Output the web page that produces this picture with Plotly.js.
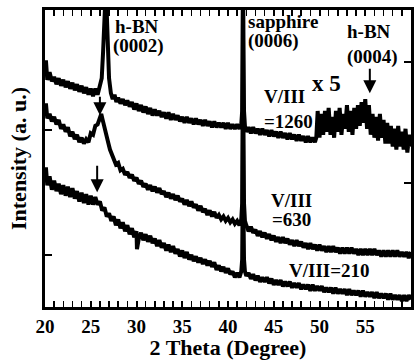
<!DOCTYPE html>
<html><head><meta charset="utf-8">
<script src="https://cdn.plot.ly/plotly-3.0.1.min.js"></script>
<style>html,body{margin:0;padding:0;background:#fff;}#chart{width:419px;height:360px;}</style>
</head><body><div id="chart"></div>
<script>
// V/III = 1260 (top curve; region above 49.7 deg shown x5)
const topX = [20.0,20.1,20.25,20.5,20.75,21.0,21.25,21.5,21.75,22.0,22.25,22.5,22.75,23.0,23.25,23.5,23.75,24.0,24.25,24.5,24.75,25.0,25.25,25.5,25.75,26.0,26.2,26.35,26.5,26.6,26.75,26.9,27.0,27.2,27.4,27.6,27.8,28.0,28.25,28.5,28.75,29.0,29.25,29.5,29.75,30.0,30.25,30.5,30.75,31.0,31.25,31.5,31.75,32.0,32.25,32.5,32.75,33.0,33.25,33.5,33.75,34.0,34.25,34.5,34.75,35.0,35.25,35.5,35.75,36.0,36.25,36.5,36.75,37.0,37.25,37.5,37.75,38.0,38.25,38.5,38.75,39.0,39.25,39.5,39.75,40.0,40.25,40.5,40.75,41.0,41.25,41.45,41.55,41.6,41.64,41.68,41.75,41.85,42.0,42.25,42.5,42.75,43.0,43.25,43.5,43.75,44.0,44.25,44.5,44.75,45.0,45.25,45.5,45.75,46.0,46.25,46.5,46.75,47.0,47.25,47.5,47.75,48.0,48.25,48.5,48.75,49.0,49.25,49.5,49.65,
49.7,49.8,50.0,50.2,50.4,50.6,50.8,51.0,51.2,51.4,51.6,51.8,52.0,52.2,52.4,52.6,52.8,53.0,53.2,53.4,53.6,53.8,54.0,54.2,54.4,54.6,54.8,55.0,55.2,55.4,55.6,55.8,56.0,56.2,56.4,56.6,56.8,57.0,57.2,57.4,57.6,57.8,58.0,58.2,58.4,58.6,58.8,59.0,59.2,59.4,59.6,59.8,60.0];
const topY = [78,83,76.5,79,76,77.5,75,77,74.5,76.5,74,76,73.5,75.5,73,75,72.5,74.5,72,74,71.5,73.5,71,73.5,71.5,74,77,86,99,104,99,86,77,72,70,71.5,69,70.5,68.5,70,68,69.5,67.5,69,66.5,68.5,66,68,65.5,67.5,65,67,64.5,66.5,64.5,66,64,65.5,63.5,65.5,63,65,63,64.5,62.5,64,62,64,62,63.5,61.5,63.5,61.5,63,61,63,61,62.5,60.5,62.5,60.5,62,60.5,62,60,62,60,61.5,60,61.5,60,61.5,66,90,112,90,66,61,59,60.5,58.5,60.5,58.5,60,58,60,58,59.5,57.5,59.5,57.5,59,57,59,57,58.5,56.5,58.5,56.5,58,56,58,56,57.5,55.5,57.5,55.5,57,55.5,57,
60,66,57,65,58,66,59,67,58,64,57,66,59,67,58,65,60,68,59,66,58,67,60,68,61,69,62,70,60,68,58,65,57,64,56,65,57,63,55,62,55,61,54,60,53,61,54,59,53,60,52,58,54];

// V/III = 630 (middle curve)
const midX = [20.0,20.1,20.25,20.5,20.75,21.0,21.25,21.5,21.75,22.0,22.25,22.5,22.75,23.0,23.25,23.5,23.75,24.0,24.25,24.5,24.75,25.0,25.25,25.5,25.75,26.0,26.15,26.3,26.5,26.7,26.9,27.1,27.3,27.5,27.75,28.0,28.25,28.5,28.75,29.0,29.25,29.5,29.75,30.0,30.25,30.5,30.75,31.0,31.25,31.5,31.75,32.0,32.25,32.5,32.75,33.0,33.25,33.5,33.75,34.0,34.25,34.5,34.75,35.0,35.25,35.5,35.75,36.0,36.25,36.5,36.75,37.0,37.25,37.5,37.75,38.0,38.25,38.5,38.75,39.0,39.25,39.5,39.75,40.0,40.25,40.5,40.75,41.0,41.25,41.45,41.55,41.6,41.64,41.68,41.75,41.85,42.0,42.25,42.5,42.75,43.0,43.25,43.5,43.75,44.0,44.25,44.5,44.75,45.0,45.25,45.5,45.75,46.0,46.25,46.5,46.75,47.0,47.25,47.5,47.75,48.0,48.25,48.5,48.75,49.0,49.25,49.5,49.75,50.0,50.25,50.5,50.75,51.0,51.25,51.5,51.75,52.0,52.25,52.5,52.75,53.0,53.25,53.5,53.75,54.0,54.25,54.5,54.75,55.0,55.25,55.5,55.75,56.0,56.25,56.5,56.75,57.0,57.25,57.5,57.75,58.0,58.25,58.5,58.75,59.0,59.25,59.5,59.75,60.0];
const midY = [65,68.5,63.5,65,62.5,64,61.5,63,60,61.5,59,60.5,57.5,59,56.5,58,55.5,57,55,56.5,55.5,58.5,58,61,61.5,64.5,65,63,60,57,55.5,53,51.5,50.5,48,48.5,46,46.5,44.5,45.5,43.5,44.5,42.5,43.5,41.5,42.5,40.5,41.5,39.5,41,39,40.5,38.5,40,38,39,37,38.5,36.5,38,36,37.5,35.5,36.5,34.5,36,34,35.5,33.5,34.5,32.5,34,32,33,31,32.5,30.5,32,30,31,29.5,30.5,29,30,28.5,29.5,28,29,27.5,29.5,35,60,112,60,35,29,27.5,25.5,27,25,26,24,25.5,23.5,25,23,24.5,22.5,24,22,23.5,21.5,23.5,21.5,23,21,22.5,20.5,22.5,20.5,22,20,21.5,19.5,21.5,19.5,21,19,21,19,20.5,18.5,20.5,18.5,20.5,18.5,20,18,20,18,20,18,20,18,19.5,17.5,19.5,17.5,19.5,17.5,19.5,17.5,19.5,17.5,19,17,19,17,19,17,19,17,19,17,18.5,17,18.5,16.5,18.5];

// V/III = 210 (bottom curve)
const botX = [20.0,20.1,20.25,20.5,20.75,21.0,21.25,21.5,21.75,22.0,22.25,22.5,22.75,23.0,23.25,23.5,23.75,24.0,24.25,24.5,24.75,25.0,25.25,25.5,25.75,26.0,26.25,26.5,26.75,27.0,27.25,27.5,27.75,28.0,28.25,28.5,28.75,29.0,29.25,29.5,29.75,30.0,30.05,30.25,30.5,30.75,31.0,31.25,31.5,31.75,32.0,32.25,32.5,32.75,33.0,33.25,33.5,33.75,34.0,34.25,34.5,34.75,35.0,35.25,35.5,35.75,36.0,36.25,36.5,36.75,37.0,37.25,37.5,37.75,38.0,38.25,38.5,38.75,39.0,39.25,39.5,39.75,40.0,40.25,40.5,40.75,41.0,41.25,41.45,41.55,41.6,41.64,41.68,41.75,41.85,42.0,42.25,42.5,42.75,43.0,43.25,43.5,43.75,44.0,44.25,44.5,44.75,45.0,45.25,45.5,45.75,46.0,46.25,46.5,46.75,47.0,47.25,47.5,47.75,48.0,48.25,48.5,48.75,49.0,49.25,49.5,49.75,50.0,50.25,50.5,50.75,51.0,51.25,51.5,51.75,52.0,52.25,52.5,52.75,53.0,53.25,53.5,53.75,54.0,54.25,54.5,54.75,55.0,55.25,55.5,55.75,56.0,56.25,56.5,56.75,57.0,57.25,57.5,57.75,58.0,58.25,58.5,58.75,59.0,59.25,59.5,59.75,60.0];
const botY = [43,47,41,44,39.5,42.5,39,41.5,38,41,37.5,40.5,37,40,36.5,39,35.5,38.5,35,38,34.5,37.5,34.5,37,34.5,35.5,32.5,33.5,30.5,31.5,29,30.5,27.5,29.5,26.5,28.5,25.5,27.5,24.5,26.5,23.5,25.5,19.5,23,25,22.5,24.5,22,24,21.5,23,20.5,22.5,20,21.5,19,21,18.5,20.5,18,19.5,17,19,16.5,18.5,16,17.5,15.5,17,15,16.5,14.5,16,14,15.5,13.5,15,12.5,14,12,13.5,11.5,13,11,12,10,11.5,10,12,16,35,80,35,16,12,10.5,11.5,9.5,11,9,10.5,8.5,10,8.5,10,8,9.5,7.5,9,7.5,9,7,8.5,7,8.5,6.5,8,6.5,8,6,7.5,6,7.5,5.5,7.5,5.5,7,5.5,7,5,6.5,5,6.5,4.5,6.5,4.5,6,4.5,6,4,6,4,5.5,4,5.5,3.5,5.5,3.5,5,3.5,5,3,5,3,4.5,3,4.5,2.5,4.5,2.5,4,2.5,4,2,4,2,4,2.5];

const xTicks = [20,25,30,35,40,45,50,55,60];
const yTicksLeft = [17.5, 59.6];
const yTicksRight = [41.75, 82.5];

const FONT = 'Liberation Serif, Times New Roman, serif';
const lineStyle = {color:'#000', width:4};

const traces = [
  {x:topX, y:topY, type:'scatter', mode:'lines', line:lineStyle, hoverinfo:'skip'},
  {x:midX, y:midY, type:'scatter', mode:'lines', line:lineStyle, hoverinfo:'skip'},
  {x:botX, y:botY, type:'scatter', mode:'lines', line:lineStyle, hoverinfo:'skip'},
  {x:[], y:[], type:'scatter', mode:'lines', yaxis:'y2', hoverinfo:'skip'}
];

function txt(text, x, y, size, xanchor){
  return {text:text, x:x, y:y, xref:'x', yref:'y', showarrow:false, xanchor:xanchor||'center', yanchor:'middle',
          font:{family:FONT, size:size, color:'#000', weight:'bold'}};
}
function arrow(x, y, ay){
  return {text:'', x:x, y:y, xref:'x', yref:'y', ax:0, ay:ay, showarrow:true, arrowhead:2, arrowsize:1.3, arrowwidth:2, arrowcolor:'#000'};
}

const layout = {
  width:419, height:360,
  margin:{l:45, r:8, t:10, b:53},
  paper_bgcolor:'#fff', plot_bgcolor:'#fff',
  showlegend:false,
  font:{family:FONT, color:'#000', weight:'bold'},
  xaxis:{range:[20,60], tickvals:xTicks, ticks:'inside', ticklen:6, tickwidth:2, tickcolor:'#000',
         showline:true, linewidth:3, linecolor:'#000', mirror:'allticks', showgrid:false, zeroline:false,
         minor:{dtick:1, tick0:20, ticks:'inside', ticklen:3, tickwidth:1.5, tickcolor:'#000', showgrid:false},
         tickfont:{family:FONT, size:19, color:'#000', weight:'bold'},
         title:{text:'2 Theta (Degree)', font:{family:FONT, size:22, color:'#000', weight:'bold'}, standoff:0}},
  yaxis:{range:[0,100], tickvals:yTicksLeft, ticks:'inside', ticklen:7, tickwidth:2, tickcolor:'#000',
         showticklabels:false, showline:true, linewidth:3, linecolor:'#000', mirror:true, showgrid:false, zeroline:false,
         title:{text:'Intensity (a. u.)', font:{family:FONT, size:22, color:'#000', weight:'bold'}, standoff:10}},
  yaxis2:{range:[0,100], overlaying:'y', side:'right', tickvals:yTicksRight, ticks:'inside', ticklen:7, tickwidth:2,
          tickcolor:'#000', showticklabels:false, showline:false, showgrid:false, zeroline:false},
  annotations:[
    txt('h-BN', 30.05, 94.4, 19),
    txt('(0002)', 30.27, 88.0, 19),
    txt('sapphire', 41.95, 96.1, 19, 'left'),
    txt('(0006)', 41.95, 89.4, 19, 'left'),
    txt('h-BN', 55.41, 92.8, 19),
    txt('(0004)', 55.74, 84.3, 19),
    txt('x 5', 50.71, 75.3, 23),
    txt('V/III', 43.72, 70.9, 19, 'left'),
    txt('=1260', 43.72, 62.5, 19, 'left'),
    txt('V/III', 44.48, 35.9, 19, 'left'),
    txt('=630', 44.6, 29.3, 19, 'left'),
    txt('V/III=210', 46.45, 12.3, 19, 'left'),
    arrow(26.0, 64.6, -20),
    arrow(25.7, 38.6, -28),
    arrow(55.5, 72.0, -26)
  ]
};

Plotly.newPlot('chart', traces, layout, {staticPlot:true, displayModeBar:false});
</script>
</body></html>
